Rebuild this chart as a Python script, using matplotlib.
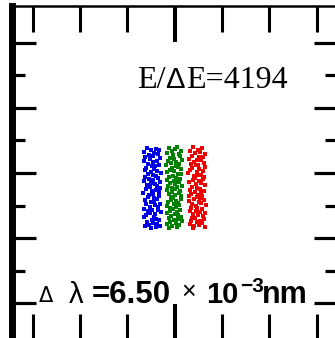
import matplotlib
matplotlib.use("Agg")
import matplotlib.pyplot as plt
import numpy as np
from matplotlib.ticker import FixedLocator

# spot centres (um) for the three wavelengths
band_centres = [-9.6, -0.2, 9.4]
band_colours = ["#0000e6", "#008000", "#ee0000"]

# blue spot
blue_dx = [-2.1, 1.5, -0.4, 3.0, -3.3, 0.8, 2.4, -1.2, 0.2, -2.8,
           3.4, -0.9, 1.9, -3.6, 0.5, -1.7, 2.8, -0.1, 1.1, -2.5,
           0.9, -3.1, 2.2, -0.6, 3.6, -1.9, 0.3, 1.6, -2.9, 2.6,
           -1.4, 0.6, -3.4, 3.2, -0.3, 1.3, -2.2, 2.0, -0.8, 3.5,
           -2.6, 1.8, -0.2, 2.9, -3.7, 0.4, -1.1, 3.1, -1.6, 0.7,
           2.3, -3.0, 1.0, -0.5, 3.3, -2.4, 1.4, -1.0, 2.7, -3.2,
           0.1, 2.5, -1.8, 3.7, -0.7, 1.2, -2.7, 0.9, -3.5, 1.7,
           -0.2, 3.0, -2.0, 0.5, 2.1, -1.3, 3.4, -3.0, 1.5, -0.6]
blue_y = [7.8, 7.4, 7.1, 6.9, 6.4, 6.2, 5.8, 5.5, 5.1, 4.9,
          4.5, 4.2, 3.8, 3.6, 3.3, 2.9, 2.6, 2.2, 2.0, 1.6,
          1.3, 1.0, 0.7, 0.3, 0.1, -0.3, -0.6, -0.9, -1.2, -1.5,
          -1.9, -2.1, -2.5, -2.8, -3.0, -3.4, -3.7, -4.1, -4.3, -4.6,
          -5.0, -5.2, -5.6, -5.9, -6.2, -6.5, -6.8, -7.2, -7.4, -7.8,
          -8.1, -8.3, -8.7, -9.0, -9.4, -9.6, -9.9, -10.3, -10.5, -10.9,
          -11.2, -11.4, -11.8, -12.1, -12.4, -12.7, -13.0, -13.4, -13.6, -14.0,
          -14.3, -14.5, -14.9, -15.2, -15.5, -15.8, -16.1, -16.4, -16.7, -16.9]

# green spot
green_dx = [1.2, -2.4, 0.3, 2.9, -1.0, -3.1, 1.8, -0.5, 2.3, -1.8,
            -0.2, 3.2, -2.8, 0.9, -1.4, 2.0, -3.3, 0.6, 1.4, -0.9,
            2.7, -1.6, 0.0, -2.9, 1.6, 3.0, -0.7, -2.1, 0.8, 2.4,
            -3.0, 1.0, -0.3, 2.2, -1.9, 0.4, 3.1, -2.6, 1.3, -1.1,
            0.5, -3.2, 2.6, -0.8, 1.9, -2.2, 0.1, 2.8, -1.5, -0.4,
            3.0, -1.3, 0.7, -2.7, 1.5, -0.1, 2.1, -3.0, 0.9, -1.7,
            -0.6, 2.5, -2.0, 1.1, -3.1, 0.2, 1.7, -1.2, 2.9, -2.4,
            1.4, -0.3, 3.1, -1.8, 0.6, -2.9, 2.2, -0.9, 1.0, -2.2]
green_y = [8.1, 7.7, 7.3, 6.8, 6.6, 6.1, 5.9, 5.4, 5.2, 4.7,
           4.4, 4.0, 3.7, 3.4, 3.0, 2.8, 2.4, 2.1, 1.7, 1.5,
           1.1, 0.8, 0.5, 0.2, -0.2, -0.4, -0.8, -1.1, -1.4, -1.7,
           -2.0, -2.3, -2.6, -2.9, -3.2, -3.5, -3.9, -4.0, -4.4, -4.7,
           -4.9, -5.3, -5.5, -5.8, -6.1, -6.4, -6.7, -7.0, -7.3, -7.6,
           -7.9, -8.2, -8.5, -8.8, -9.1, -9.5, -9.7, -10.1, -10.4, -10.7,
           -11.0, -11.3, -11.6, -11.9, -12.2, -12.6, -12.9, -13.1, -13.5, -13.8,
           -14.1, -14.4, -14.7, -15.0, -15.3, -15.7, -16.0, -16.3, -16.6, -17.0]

# red spot
red_dx = [-1.5, 2.2, 0.4, -3.0, 1.3, -0.7, 3.3, -2.3, 0.9, 2.7,
          -3.4, 0.1, 1.7, -1.1, 2.9, -2.6, 0.6, -0.4, 3.5, -1.9,
          1.0, -2.8, 2.4, -0.2, -3.6, 1.9, 0.3, -1.4, 3.0, -0.9,
          2.6, -1.7, 0.8, -3.2, 1.5, -0.5, 3.4, -2.1, 0.2, 1.2,
          -2.9, 3.1, -0.8, 1.8, -2.4, 0.5, 2.3, -3.5, -0.1, 1.4,
          -1.2, 2.8, -3.3, 0.7, 1.6, -2.0, 3.6, -0.6, 0.0, -2.7,
          2.0, -0.3, -3.1, 1.1, 3.2, -1.6, 0.4, 2.5, -2.2, -0.9,
          3.0, -2.5, 1.3, -0.2, 2.1, -3.0, 0.8, -1.3, 3.3, -1.8]
red_y = [7.9, 7.6, 7.2, 6.7, 6.5, 6.0, 5.7, 5.3, 5.0, 4.8,
         4.3, 4.1, 3.9, 3.5, 3.1, 2.7, 2.5, 2.3, 1.8, 1.4,
         1.2, 0.9, 0.6, 0.4, 0.0, -0.5, -0.7, -1.0, -1.3, -1.6,
         -1.8, -2.2, -2.4, -2.7, -3.1, -3.3, -3.6, -4.2, -4.5, -4.8,
         -5.1, -5.4, -5.7, -6.0, -6.3, -6.6, -6.9, -7.1, -7.5, -7.7,
         -8.0, -8.4, -8.6, -8.9, -9.2, -9.5, -9.8, -10.2, -10.6, -10.8,
         -11.1, -11.5, -11.7, -12.0, -12.3, -12.5, -12.8, -13.3, -13.7, -13.9,
         -14.2, -14.6, -14.8, -15.1, -15.4, -15.6, -15.9, -16.2, -16.5, -16.8]

x_major = [0]
x_minor = [-60, -40, -20, 20, 40, 60]
y_major = [-40, -20, 0, 20, 40]
y_minor = [-30, -10, 10, 30]

W, H = 335, 338
fig = plt.figure(figsize=(W / 100, H / 100), dpi=100)
# frame runs off the right/bottom edge like the original screenshot
ax = fig.add_axes([11.5 / W, -2 / H, (338 - 11.5) / W, (340 - 6) / H])

spots = [(blue_dx, blue_y), (green_dx, green_y), (red_dx, red_y)]
for (dx, yy), xc, c in zip(spots, band_centres, band_colours):
    ax.scatter(np.array(dx) + xc, yy, s=7, marker="s", color=c, linewidths=0)

ax.set_xlim(-69, 69)
ax.set_ylim(-51.2, 51.2)

ax.xaxis.set_major_locator(FixedLocator(x_major))
ax.xaxis.set_minor_locator(FixedLocator(x_minor))
ax.yaxis.set_major_locator(FixedLocator(y_major))
ax.yaxis.set_minor_locator(FixedLocator(y_minor))

ax.tick_params(axis="x", which="major", direction="in", top=True, bottom=True,
               length=26, width=2.9, labelbottom=False)
ax.tick_params(axis="x", which="minor", direction="in", top=True, bottom=True,
               length=19, width=2.2)
ax.tick_params(axis="y", which="major", direction="in", left=True, right=True,
               length=17, width=2.3, labelleft=False)
ax.tick_params(axis="y", which="minor", direction="in", left=True, right=True,
               length=9.5, width=2.3)

ax.spines["left"].set_linewidth(5)
ax.spines["top"].set_linewidth(1.8)
ax.spines["right"].set_linewidth(2)
ax.spines["bottom"].set_linewidth(2)


def px(x, y):
    return x / W, 1 - y / H


# resolving power label
fig.text(*px(137, 88), "E/", family="Liberation Serif", fontsize=23, va="baseline")
fig.text(*px(165, 88), "Δ", family="Liberation Sans", fontsize=21, va="baseline")
fig.text(*px(186, 88), "E=4194", family="Liberation Serif", fontsize=23, va="baseline")

# wavelength step label
fig.text(*px(39, 302), "Δ", family="DejaVu Sans", fontsize=15, va="baseline")
fig.text(*px(69, 303), "λ", family="Liberation Sans", fontsize=21, va="baseline")
fig.text(*px(92, 303), "=6.50", family="Liberation Sans", weight="bold",
         fontsize=22.5, va="baseline")
fig.text(*px(181, 299), "×", family="Liberation Sans", fontsize=18, va="baseline")
fig.text(*px(206, 303), "10", family="Liberation Sans", weight="bold",
         fontsize=21, va="baseline")
fig.text(*px(240, 292), "−3", family="Liberation Sans", weight="bold",
         fontsize=15, va="baseline")
fig.text(*px(262, 303), "nm", family="Liberation Sans", weight="bold",
         fontsize=22, va="baseline")

fig.savefig("out.png", dpi=100)
